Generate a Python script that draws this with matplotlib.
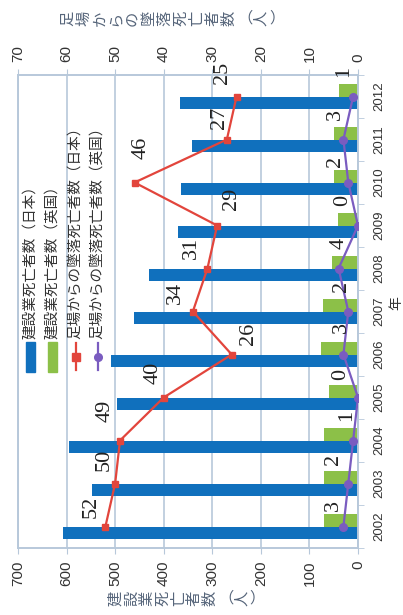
import matplotlib
matplotlib.use('Agg')

import matplotlib.pyplot as plt
from matplotlib.patches import Rectangle
from matplotlib.lines import Line2D

# ---------------------
# data
years = ['2002', '2003', '2004', '2005', '2006', '2007', '2008', '2009', '2010', '2011', '2012']
japan_total = [607, 548, 594, 497, 508, 461, 430, 371, 365, 342, 367]
uk_total = [70, 71, 69, 60, 77, 72, 53, 41, 50, 49, 39]
japan_scaffold = [52, 50, 49, 40, 26, 34, 31, 29, 46, 27, 25]
uk_scaffold = [3, 2, 1, 0, 3, 2, 4, 0, 2, 3, 1]

legend_labels = ['建設業死亡者数（日本）', '建設業死亡者数（英国）',
                 '足場からの墜落死亡者数（日本）', '足場からの墜落死亡者数（英国）']
left_title = '建設業死亡者数（人）'
right_title = '足場からの墜落死亡者数（人）'
x_title = '年'

# label offsets in image pixels (dx, dy), picture is rotated
red_offsets = [(-14, -20), (-11, -24), (-15, -30), (-11, -25), (17, -21), (-17, -19),
               (-16, -21), (14, -27), (7, -35), (-7, -22), (-14, -24)]
purple_offsets = [(-10, -21), (-15, -24), (-7, -25), (-17, -23), (-2, -27), (-7, -25),
                  (1, -25), (-15, -25), (-13, -21), (-8, -25), (-10, -25)]

BLUE = '#1070bd'
GREEN = '#8cc048'
RED = '#e2453c'
PURPLE = '#7a5cc0'
GRID = '#b7c8da'
CJK = ['Noto Sans CJK JP', 'DejaVu Sans']

W, H = 403, 615


def fx(x):
    return x / W


def fy(y):
    return 1 - y / H


fig = plt.figure(figsize=(W / 100, H / 100), dpi=100)
ax = fig.add_axes([fx(18), fy(548), (358 - 18) / W, (548 - 75) / H])

idx = list(range(len(years)))
bw = 0.29
ax.barh([i - bw / 2 for i in idx], japan_total, height=bw, color=BLUE, zorder=2)
ax.barh([i + bw / 2 for i in idx], uk_total, height=bw, color=GREEN, zorder=2)

ax.set_xlim(700, 0)
ax.set_ylim(-0.5, len(years) - 0.5)
ax.set_xticks(range(0, 701, 100))
ax.set_xticklabels([str(v) for v in range(0, 701, 100)], rotation=90,
                   fontsize=11, family='Liberation Sans', color='#333333')
ax.grid(axis='x', color=GRID, linewidth=1.2, zorder=0)
ax.set_axisbelow(True)
ax.tick_params(axis='x', which='major', length=4, color=GRID, pad=5)

ax.yaxis.tick_right()
ax.set_yticks(idx)
ax.set_yticklabels(years, rotation=90, va='center', fontsize=9.5,
                   family='Liberation Sans', color='#333333')
ax.set_yticks([i - 0.5 for i in idx] + [len(years) - 0.5], minor=True)
ax.tick_params(axis='y', which='major', length=0, pad=11)
ax.tick_params(axis='y', which='minor', length=4, color=GRID)

for s in ax.spines.values():
    s.set_color(GRID)
    s.set_linewidth(1.2)

ax2 = ax.twiny()
ax2.plot(japan_scaffold, idx, color=RED, linewidth=1.6, marker='s', markersize=5, zorder=3)
ax2.plot(uk_scaffold, idx, color=PURPLE, linewidth=1.6, marker='o', markersize=5.5, zorder=3)
ax2.set_xlim(70, 0)
ax2.set_xticks(range(0, 71, 10))
ax2.set_xticklabels([str(v) for v in range(0, 71, 10)], rotation=90,
                    fontsize=11, family='Liberation Sans', color='#333333')
ax2.tick_params(axis='x', length=4, color=GRID, pad=5)
for s in ax2.spines.values():
    s.set_color(GRID)
    s.set_linewidth(1.2)

# data labels
for v, i, (dx, dy) in zip(japan_scaffold, idx, red_offsets):
    ax2.annotate(str(v), (v, i), xytext=(dx, -dy), textcoords='offset pixels',
                 rotation=90, ha='center', va='center', fontsize=16,
                 family='Liberation Serif', color='#222222')
for v, i, (dx, dy) in zip(uk_scaffold, idx, purple_offsets):
    ax2.annotate(str(v), (v, i), xytext=(dx, -dy), textcoords='offset pixels',
                 rotation=90, ha='center', va='center', fontsize=16,
                 family='Liberation Serif', color='#222222')

# legend, drawn by hand because it is rotated
leg_x = [30, 52, 76, 98]
for k, lab in enumerate(legend_labels):
    fig.text(fx(leg_x[k]), fy(339), lab, rotation=90, ha='center', va='bottom',
             fontsize=10.5, family=CJK, color='#333333')
fig.patches.append(Rectangle((fx(26), fy(372)), 9 / W, 30 / H, color=BLUE,
                             transform=fig.transFigure, figure=fig))
fig.patches.append(Rectangle((fx(48), fy(372)), 9 / W, 30 / H, color=GREEN,
                             transform=fig.transFigure, figure=fig))
for xx, col, mk in [(76, RED, 's'), (98, PURPLE, 'o')]:
    fig.lines.append(Line2D([fx(xx), fx(xx)], [fy(370), fy(343)], color=col,
                            linewidth=1.6, marker=None, transform=fig.transFigure))
    fig.lines.append(Line2D([fx(xx)], [fy(357)], color=col, marker=mk, markersize=5.5,
                            transform=fig.transFigure))


# axis titles: stacked vertical text turned on its side
def side_title(text, x0, x1, yc):
    step = (x1 - x0) / len(text)
    for k, ch in enumerate(text):
        rot = 0 if ch in '（）' else 90
        fig.text(fx(x0 + step * (k + 0.5)), fy(yc), ch, rotation=rot, ha='center',
                 va='center', fontsize=11, family=CJK, color='#56657a')


side_title(right_title, 60, 285, 18)
side_title(left_title, 108, 265, 598)
fig.text(fx(396), fy(303), x_title, rotation=90, ha='center', va='center',
         fontsize=10, family=CJK, color='#333333')

plt.savefig('out.png', dpi=100)
